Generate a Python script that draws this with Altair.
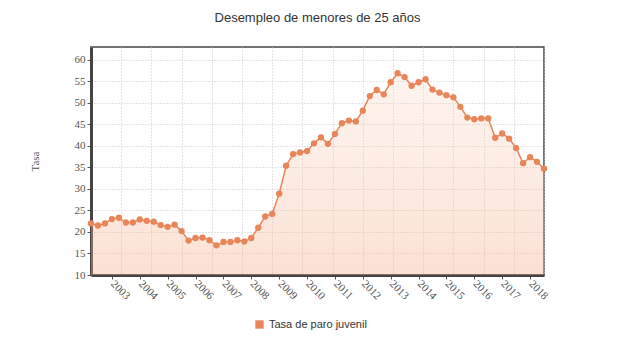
import altair as alt
import pandas as pd
import numpy as np

# Quarterly youth unemployment rate (under 25), starting 2002 Q2
tasa = [22.0, 21.5, 22.0, 23.0, 23.3, 22.2, 22.2, 22.9, 22.6, 22.4,
        21.6, 21.2, 21.7, 20.2, 18.0, 18.6, 18.7, 18.1, 16.9, 17.7,
        17.7, 18.1, 17.8, 18.6, 21.0, 23.6, 24.2, 28.9, 35.4, 38.1,
        38.5, 38.8, 40.6, 42.0, 40.5, 42.8, 45.3, 45.9, 45.7, 48.2,
        51.6, 53.0, 52.0, 54.8, 56.9, 56.0, 54.0, 54.8, 55.5, 53.1,
        52.4, 51.8, 51.3, 49.1, 46.6, 46.2, 46.4, 46.4, 41.9, 42.9,
        41.7, 39.5, 36.0, 37.4, 36.3, 34.7]
start_year = 2002
start_quarter = 2
years = list(range(2003, 2019))
serie = "Tasa de paro juvenil"
y_min, y_max = 10, 63

periodo = [start_year + (start_quarter - 1 + i) / 4 for i in range(len(tasa))]
df = pd.DataFrame({"periodo": periodo, "tasa": tasa, "serie": serie,
                   "base": [y_min] * len(tasa)})

x_dom = [periodo[0], periodo[-1]]
grid_vals = [float(v) for v in np.linspace(x_dom[0], x_dom[-1], 16)]

orange = "#E8865A"
serif = "Liberation Serif"
sans = "Liberation Sans"

x_scale = alt.Scale(domain=x_dom, nice=False, zero=False)
y_scale = alt.Scale(domain=[y_min, y_max], nice=False, zero=False)
y_enc = alt.Y(
    "tasa:Q",
    scale=y_scale,
    axis=alt.Axis(
        values=list(range(10, 65, 5)), title="Tasa", titleFont=serif,
        titleFontSize=11, titleFontWeight="normal", titleColor="#555",
        titlePadding=34, labelFont=serif, labelFontSize=11, labelColor="#555",
        tickSize=4, tickColor="#555", domainColor="#444", domainWidth=3,
        grid=True, gridColor="#c8c8c8", gridDash=[1, 2], labelPadding=2,
    ),
)

area = alt.Chart(df).mark_area(
    clip=True,
    color=alt.Gradient(
        gradient="linear",
        stops=[
            alt.GradientStop(color="rgba(250,205,180,0.22)", offset=0),
            alt.GradientStop(color="rgba(245,175,140,0.38)", offset=1),
        ],
        x1=0, x2=0, y1=0, y2=1,
    )
).encode(
    x=alt.X("periodo:Q", scale=x_scale,
            axis=alt.Axis(values=grid_vals, labels=False, ticks=False, domain=False,
                          grid=True, gridColor="#c8c8c8", gridDash=[1, 2],
                          title=None, orient="bottom")),
    y=y_enc,
    y2="base:Q",
)

line = alt.Chart(df).mark_line(color=orange, strokeWidth=1.5).encode(
    x=alt.X("periodo:Q", scale=x_scale, axis=None),
    y=y_enc,
)

points = alt.Chart(df).mark_point(filled=True, size=40, opacity=1).encode(
    x=alt.X("periodo:Q", scale=x_scale,
            axis=alt.Axis(values=years, format="d", labelAngle=45, labelAlign="left",
                          labelBaseline="middle", labelFont=serif, labelFontSize=11,
                          labelColor="#555", tickSize=4, tickColor="#555",
                          domainColor="#444", domainWidth=3, grid=False, title=None,
                          labelPadding=3, orient="bottom")),
    y=y_enc,
    color=alt.Color("serie:N", scale=alt.Scale(range=[orange]),
                    legend=alt.Legend(title=None, orient="none", legendX=163, legendY=272,
                                      symbolType="square", symbolSize=70,
                                      labelFont=sans, labelFontSize=11, labelColor="#333")),
)

chart = alt.layer(area, line, points).resolve_axis(x="independent").properties(
    width=453,
    height=228,
    view=alt.ViewBackground(stroke="#444", strokeWidth=1.5),
    title=alt.TitleParams("Desempleo de menores de 25 años", font=sans, fontSize=13,
                          fontWeight="normal", color="#333", offset=22, anchor="middle"),
    autosize=alt.AutoSizeParams(type="none"),
    padding={"left": 91, "top": 47, "right": 76, "bottom": 75},
).configure(background="white")

chart.save("out.html", embed_options={"renderer": "svg", "actions": False})
